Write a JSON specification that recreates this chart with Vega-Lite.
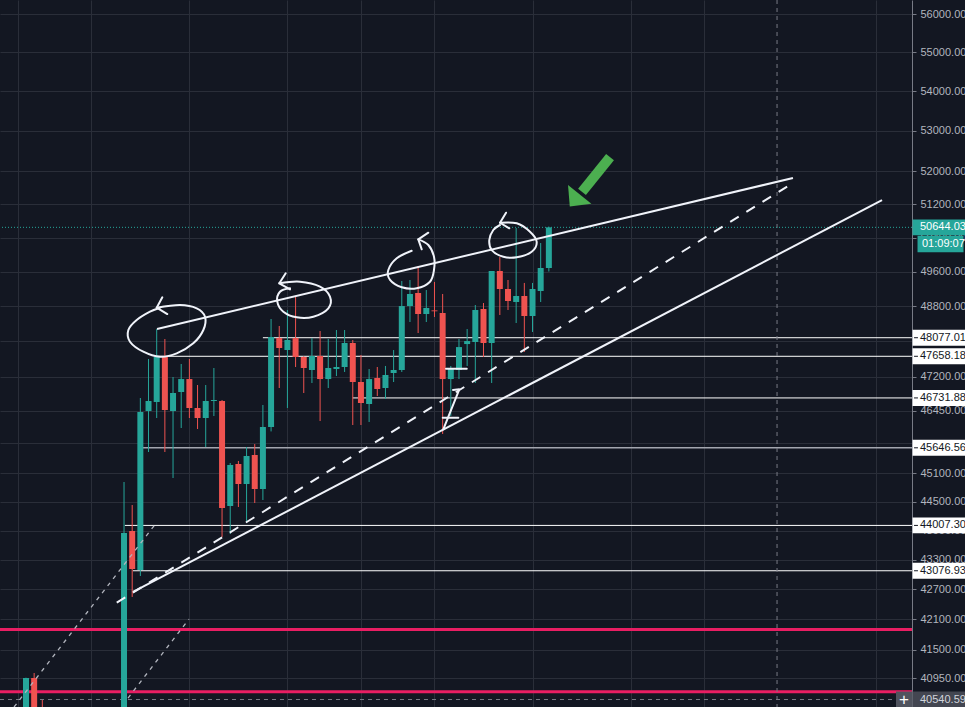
{
  "$schema": "https://vega.github.io/schema/vega-lite/v6.json",
  "width": 912,
  "height": 707,
  "autosize": "none",
  "padding": {"left": 0, "top": 0, "right": 53, "bottom": 0},
  "background": "#131722",
  "config": {
    "view": {"stroke": null},
    "font": "Liberation Sans",
    "axis": {"gridColor": "#2a2e39", "gridWidth": 1, "title": null},
    "axisY": {
      "labelColor": "#b2b5be", "labelFont": "Liberation Sans", "labelFontSize": 11,
      "tickColor": "#787b86", "tickSize": 4, "domainColor": "#787b86",
      "labelPadding": 4, "labelOverlap": false, "labelFlush": false, "labelBound": false
    }
  },
  "datasets": {
    "candles": [
      {"t": -12, "open": 40250, "high": 40960, "low": 40150, "close": 40954},
      {"t": -11, "open": 40954, "high": 41050, "low": 40100, "close": 40200},
      {"t": -10, "open": 40380, "high": 40531, "low": 40150, "close": 40250},
      {"t": 0, "open": 40300, "high": 44917, "low": 40200, "close": 43850},
      {"t": 1, "open": 43891, "high": 44432, "low": 42548, "close": 43113},
      {"t": 2, "open": 43093, "high": 46730, "low": 42971, "close": 46423},
      {"t": 3, "open": 46445, "high": 47597, "low": 45556, "close": 46664},
      {"t": 4, "open": 46642, "high": 48275, "low": 46292, "close": 47642},
      {"t": 5, "open": 47642, "high": 48048, "low": 45556, "close": 46467},
      {"t": 6, "open": 46445, "high": 47195, "low": 45001, "close": 46841},
      {"t": 7, "open": 46863, "high": 47485, "low": 46074, "close": 47150},
      {"t": 8, "open": 47150, "high": 47597, "low": 46292, "close": 46511},
      {"t": 9, "open": 46511, "high": 47017, "low": 46053, "close": 46292},
      {"t": 10, "open": 46292, "high": 47017, "low": 45663, "close": 46664},
      {"t": 11, "open": 46664, "high": 47396, "low": 46335, "close": 46686},
      {"t": 12, "open": 46664, "high": 46686, "low": 43768, "close": 44370},
      {"t": 13, "open": 44412, "high": 45321, "low": 43830, "close": 45278},
      {"t": 14, "open": 45299, "high": 45364, "low": 44391, "close": 44875},
      {"t": 15, "open": 44875, "high": 45663, "low": 44058, "close": 45470},
      {"t": 16, "open": 45492, "high": 45728, "low": 44474, "close": 44769},
      {"t": 17, "open": 44769, "high": 46577, "low": 44537, "close": 46096},
      {"t": 18, "open": 46096, "high": 48503, "low": 46000, "close": 48093},
      {"t": 19, "open": 48070, "high": 48343, "low": 46951, "close": 47844},
      {"t": 20, "open": 47799, "high": 48709, "low": 46511, "close": 48025},
      {"t": 21, "open": 48070, "high": 49032, "low": 47418, "close": 47642},
      {"t": 22, "open": 47642, "high": 47660, "low": 46841, "close": 47396},
      {"t": 23, "open": 47351, "high": 48070, "low": 47062, "close": 47665},
      {"t": 24, "open": 47665, "high": 48229, "low": 46226, "close": 47150},
      {"t": 25, "open": 47150, "high": 48048, "low": 46951, "close": 47396},
      {"t": 26, "open": 47373, "high": 48252, "low": 47217, "close": 47418},
      {"t": 27, "open": 47418, "high": 48252, "low": 47307, "close": 47957},
      {"t": 28, "open": 47957, "high": 48025, "low": 46139, "close": 47084},
      {"t": 29, "open": 47084, "high": 47687, "low": 46139, "close": 46620},
      {"t": 30, "open": 46598, "high": 47373, "low": 46205, "close": 47150},
      {"t": 31, "open": 47173, "high": 47418, "low": 46774, "close": 46929},
      {"t": 32, "open": 46951, "high": 47441, "low": 46708, "close": 47240},
      {"t": 33, "open": 47284, "high": 47799, "low": 47084, "close": 47351},
      {"t": 34, "open": 47351, "high": 49380, "low": 47307, "close": 48800},
      {"t": 35, "open": 48800, "high": 49403, "low": 48434, "close": 49078},
      {"t": 36, "open": 49101, "high": 49729, "low": 48184, "close": 48617},
      {"t": 37, "open": 48617, "high": 49170, "low": 48434, "close": 48755},
      {"t": 38, "open": 48700, "high": 49357, "low": 48549, "close": 48680},
      {"t": 39, "open": 48640, "high": 49078, "low": 45944, "close": 47150},
      {"t": 40, "open": 47150, "high": 47441, "low": 46335, "close": 47373},
      {"t": 41, "open": 47351, "high": 48048, "low": 47150, "close": 47866},
      {"t": 42, "open": 47934, "high": 48275, "low": 47441, "close": 48002},
      {"t": 43, "open": 47980, "high": 48824, "low": 47062, "close": 48709},
      {"t": 44, "open": 48732, "high": 48870, "low": 47642, "close": 47957},
      {"t": 45, "open": 47957, "high": 49613, "low": 47062, "close": 49613},
      {"t": 46, "open": 49613, "high": 49940, "low": 48594, "close": 49193},
      {"t": 47, "open": 49193, "high": 49403, "low": 48709, "close": 48916},
      {"t": 48, "open": 48893, "high": 50628, "low": 48411, "close": 49032},
      {"t": 49, "open": 49032, "high": 49334, "low": 47754, "close": 48571},
      {"t": 50, "open": 48571, "high": 49334, "low": 48207, "close": 49193},
      {"t": 51, "open": 49147, "high": 50271, "low": 48893, "close": 49683},
      {"t": 52, "open": 49683, "high": 50660, "low": 49600, "close": 50644.03}
    ],
    "levels": [
      {"price": 48077.01, "from": 17.0},
      {"price": 47658.18, "from": 3.8},
      {"price": 46731.88, "from": 28.0},
      {"price": 44007.30, "from": 0.1},
      {"price": 43076.93, "from": 1.1}
    ],
    "trends": [
      {"id": "upper", "style": "solid", "t": 4.04, "price": 48275},
      {"id": "upper", "style": "solid", "t": 81.88, "price": 51835},
      {"id": "lower", "style": "solid", "t": 1.10, "price": 42648},
      {"id": "lower", "style": "solid", "t": 92.78, "price": 51300},
      {"id": "mid", "style": "dashed", "t": -0.89, "price": 42434},
      {"id": "mid", "style": "dashed", "t": 81.88, "price": 51713},
      {"id": "a", "style": "thin", "t": -13.46, "price": 40398},
      {"id": "a", "style": "thin", "t": 4.04, "price": 44078},
      {"id": "b", "style": "thin", "t": 0.49, "price": 40569},
      {"id": "b", "style": "thin", "t": 7.96, "price": 42108}
    ],
    "circles": [
      {"id": "c1", "seq": 1, "t": 4.00, "price": 48762},
      {"id": "c1", "seq": 2, "t": 6.85, "price": 48824},
      {"id": "c1", "seq": 3, "t": 8.90, "price": 48748},
      {"id": "c1", "seq": 4, "t": 9.91, "price": 48556},
      {"id": "c1", "seq": 5, "t": 9.71, "price": 48252},
      {"id": "c1", "seq": 6, "t": 8.48, "price": 47950},
      {"id": "c1", "seq": 7, "t": 6.45, "price": 47725},
      {"id": "c1", "seq": 8, "t": 4.41, "price": 47649},
      {"id": "c1", "seq": 9, "t": 2.36, "price": 47761},
      {"id": "c1", "seq": 10, "t": 0.73, "price": 47987},
      {"id": "c1", "seq": 11, "t": 0.53, "price": 48252},
      {"id": "c1", "seq": 12, "t": 1.55, "price": 48480},
      {"id": "c1", "seq": 13, "t": 3.18, "price": 48670},
      {"id": "c1", "seq": 14, "t": 4.41, "price": 48762},
      {"id": "c2", "seq": 1, "t": 19.01, "price": 49326},
      {"id": "c2", "seq": 2, "t": 21.54, "price": 49363},
      {"id": "c2", "seq": 3, "t": 23.99, "price": 49247},
      {"id": "c2", "seq": 4, "t": 25.21, "price": 49015},
      {"id": "c2", "seq": 5, "t": 25.01, "price": 48748},
      {"id": "c2", "seq": 6, "t": 23.17, "price": 48556},
      {"id": "c2", "seq": 7, "t": 21.14, "price": 48542},
      {"id": "c2", "seq": 8, "t": 19.50, "price": 48670},
      {"id": "c2", "seq": 9, "t": 18.76, "price": 48900},
      {"id": "c2", "seq": 10, "t": 19.09, "price": 49131},
      {"id": "c2", "seq": 11, "t": 20.32, "price": 49209},
      {"id": "c3", "seq": 1, "t": 36.02, "price": 50359},
      {"id": "c3", "seq": 2, "t": 37.25, "price": 50224},
      {"id": "c3", "seq": 3, "t": 37.94, "price": 49948},
      {"id": "c3", "seq": 4, "t": 37.94, "price": 49636},
      {"id": "c3", "seq": 5, "t": 37.45, "price": 49363},
      {"id": "c3", "seq": 6, "t": 35.83, "price": 49210},
      {"id": "c3", "seq": 7, "t": 33.99, "price": 49233},
      {"id": "c3", "seq": 8, "t": 32.56, "price": 49403},
      {"id": "c3", "seq": 9, "t": 32.35, "price": 49636},
      {"id": "c3", "seq": 10, "t": 33.38, "price": 49910},
      {"id": "c3", "seq": 11, "t": 35.21, "price": 50088},
      {"id": "c4", "seq": 1, "t": 46.02, "price": 50754},
      {"id": "c4", "seq": 2, "t": 48.07, "price": 50740},
      {"id": "c4", "seq": 3, "t": 49.69, "price": 50540},
      {"id": "c4", "seq": 4, "t": 50.51, "price": 50302},
      {"id": "c4", "seq": 5, "t": 49.90, "price": 50065},
      {"id": "c4", "seq": 6, "t": 48.07, "price": 49933},
      {"id": "c4", "seq": 7, "t": 46.43, "price": 49947},
      {"id": "c4", "seq": 8, "t": 45.01, "price": 50105},
      {"id": "c4", "seq": 9, "t": 44.71, "price": 50342},
      {"id": "c4", "seq": 10, "t": 45.20, "price": 50580},
      {"id": "c4", "seq": 11, "t": 46.02, "price": 50700}
    ],
    "strokes": [
      {"id": "h1", "seq": 1, "t": 4.69, "price": 49001},
      {"id": "h1", "seq": 2, "t": 4.00, "price": 48762},
      {"id": "h1", "seq": 3, "t": 5.30, "price": 48617},
      {"id": "h2", "seq": 1, "t": 19.79, "price": 49559},
      {"id": "h2", "seq": 2, "t": 19.01, "price": 49326},
      {"id": "h2", "seq": 3, "t": 20.32, "price": 49186},
      {"id": "h3", "seq": 1, "t": 37.25, "price": 50516},
      {"id": "h3", "seq": 2, "t": 36.02, "price": 50359},
      {"id": "h3", "seq": 3, "t": 36.44, "price": 50122},
      {"id": "h4", "seq": 1, "t": 46.76, "price": 50994},
      {"id": "h4", "seq": 2, "t": 46.02, "price": 50754},
      {"id": "h4", "seq": 3, "t": 47.16, "price": 50621},
      {"id": "s1", "seq": 1, "t": 39.08, "price": 46046},
      {"id": "s1", "seq": 2, "t": 41.04, "price": 46922},
      {"id": "s1", "seq": 3, "t": 40.27, "price": 46907},
      {"id": "s2", "seq": 1, "t": 39.01, "price": 46298},
      {"id": "s2", "seq": 2, "t": 40.92, "price": 46298},
      {"id": "s3", "seq": 1, "t": 39.41, "price": 47380},
      {"id": "s3", "seq": 2, "t": 41.95, "price": 47380}
    ]
  },
  "layer": [
    {
      "data": {"values": [{"price": 41900}, {"price": 40690}]},
      "mark": {"type": "rule", "color": "#e91e63", "strokeWidth": 3},
      "encoding": {
        "y": {
          "field": "price", "type": "quantitative",
          "scale": {"type": "log", "domain": [40398, 56371], "nice": false, "zero": false, "padding": 0},
          "axis": {
            "orient": "right", "title": null, "grid": true,
            "labelExpr": "datum.value == 45750 ? '' : format(datum.value, '.2f')",
            "values": [56000, 55000, 54000, 53000, 52000, 51200, 50400, 49600, 48800, 48000, 47200, 46450, 45750, 45100, 44500, 43900, 43300, 42700, 42100, 41500, 40950, 40400]
          }
        }
      }
    },
    {
      "data": {"name": "levels"},
      "mark": {"type": "rule", "color": "#ffffff", "strokeWidth": 1},
      "encoding": {
        "x": {"field": "from", "type": "quantitative"},
        "x2": {"datum": 96.45},
        "y": {"field": "price", "type": "quantitative"}
      }
    },
    {
      "data": {"values": [{"price": 45646.56, "from": 2.3}]},
      "mark": {"type": "rule", "color": "#a3a6af", "strokeWidth": 1.5},
      "encoding": {
        "x": {"field": "from", "type": "quantitative"},
        "x2": {"datum": 96.45},
        "y": {"field": "price", "type": "quantitative"}
      }
    },
    {
      "data": {"values": [{}]},
      "mark": {"type": "rule", "color": "#787b86", "strokeWidth": 1, "strokeDash": [4, 4]},
      "encoding": {
        "x": {"datum": -15.18, "type": "quantitative"},
        "x2": {"datum": 94.49},
        "y": {"datum": 40540.59, "type": "quantitative"}
      }
    },
    {
      "data": {"values": [{}]},
      "mark": {"type": "rule", "color": "#787b86", "strokeWidth": 1, "strokeDash": [4, 4]},
      "encoding": {
        "x": {"datum": 79.93, "type": "quantitative"}
      }
    },
    {
      "data": {"name": "candles"},
      "mark": {"type": "rule", "strokeWidth": 1, "clip": true},
      "encoding": {
        "x": {
          "field": "t", "type": "quantitative",
          "scale": {"domain": [-15.18, 96.45], "nice": false, "zero": false, "padding": 0},
          "axis": {"values": [-13, -4, 8, 20, 29, 38, 50, 62, 71, 92], "labels": false, "ticks": false, "domain": false, "grid": true, "title": null}
        },
        "y": {"field": "low", "type": "quantitative"},
        "y2": {"field": "high"},
        "color": {"condition": {"test": "datum.close >= datum.open", "value": "#26a69a"}, "value": "#ef5350"}
      }
    },
    {
      "data": {"name": "candles"},
      "mark": {"type": "bar", "width": 6, "clip": true},
      "encoding": {
        "x": {"field": "t", "type": "quantitative"},
        "y": {"field": "open", "type": "quantitative"},
        "y2": {"field": "close"},
        "color": {"condition": {"test": "datum.close >= datum.open", "value": "#26a69a"}, "value": "#ef5350"}
      }
    },
    {
      "data": {"values": [{}]},
      "mark": {"type": "rule", "color": "#26a69a", "strokeWidth": 1, "strokeDash": [1, 2]},
      "encoding": {
        "y": {"datum": 50644.03, "type": "quantitative"}
      }
    },
    {
      "data": {"name": "trends"},
      "transform": [{"filter": "datum.style == 'solid'"}],
      "mark": {"type": "line", "color": "#f0f3fa", "strokeWidth": 2, "clip": true},
      "encoding": {
        "x": {"field": "t", "type": "quantitative"},
        "y": {"field": "price", "type": "quantitative"},
        "detail": {"field": "id"}
      }
    },
    {
      "data": {"name": "trends"},
      "transform": [{"filter": "datum.style == 'dashed'"}],
      "mark": {"type": "line", "color": "#f0f3fa", "strokeWidth": 2, "strokeDash": [10, 9], "clip": true},
      "encoding": {
        "x": {"field": "t", "type": "quantitative"},
        "y": {"field": "price", "type": "quantitative"},
        "detail": {"field": "id"}
      }
    },
    {
      "data": {"name": "trends"},
      "transform": [{"filter": "datum.style == 'thin'"}],
      "mark": {"type": "line", "color": "#b2b5be", "strokeWidth": 1.3, "strokeDash": [4, 5], "clip": true},
      "encoding": {
        "x": {"field": "t", "type": "quantitative"},
        "y": {"field": "price", "type": "quantitative"},
        "detail": {"field": "id"}
      }
    },
    {
      "data": {"name": "circles"},
      "mark": {"type": "line", "color": "#f0f3fa", "strokeWidth": 2, "interpolate": "cardinal", "strokeCap": "round"},
      "encoding": {
        "x": {"field": "t", "type": "quantitative"},
        "y": {"field": "price", "type": "quantitative"},
        "detail": {"field": "id"},
        "order": {"field": "seq"}
      }
    },
    {
      "data": {"name": "strokes"},
      "mark": {"type": "line", "color": "#f0f3fa", "strokeWidth": 2, "strokeCap": "round", "strokeJoin": "round"},
      "encoding": {
        "x": {"field": "t", "type": "quantitative"},
        "y": {"field": "price", "type": "quantitative"},
        "detail": {"field": "id"},
        "order": {"field": "seq"}
      }
    },
    {
      "data": {"values": [{"t": 59.49, "price": 52350}, {"t": 56.06, "price": 51495}]},
      "mark": {"type": "line", "color": "#4caf50", "strokeWidth": 10, "strokeCap": "butt"},
      "encoding": {
        "x": {"field": "t", "type": "quantitative"},
        "y": {"field": "price", "type": "quantitative"}
      }
    },
    {
      "data": {"values": [{"t": 55.14, "price": 51283}]},
      "mark": {"type": "point", "shape": "M-1,-0.55L1,-0.55L0,0.5Z", "size": 900, "filled": true, "color": "#4caf50", "opacity": 1, "angle": 39},
      "encoding": {
        "x": {"field": "t", "type": "quantitative"},
        "y": {"field": "price", "type": "quantitative"}
      }
    },
    {
      "data": {"values": [{"price": 48077.01}, {"price": 47658.18}, {"price": 46731.88}, {"price": 45646.56}, {"price": 44007.30}, {"price": 43076.93}]},
      "layer": [
        {
          "mark": {"type": "point", "shape": "M-1,-0.30L1,-0.30L1,0.30L-1,0.30Z", "size": 2809, "filled": true, "color": "#ffffff", "opacity": 1},
          "encoding": {
            "x": {"datum": 99.76, "type": "quantitative"},
            "y": {"field": "price", "type": "quantitative"}
          }
        },
        {
          "mark": {"type": "rule", "color": "#131722", "strokeWidth": 1},
          "encoding": {
            "x": {"datum": 96.70, "type": "quantitative"},
            "x2": {"datum": 97.18},
            "y": {"field": "price", "type": "quantitative"}
          }
        },
        {
          "mark": {"type": "text", "align": "left", "baseline": "middle", "fontSize": 11, "color": "#131722", "font": "Liberation Sans"},
          "encoding": {
            "x": {"datum": 97.43, "type": "quantitative"},
            "y": {"field": "price", "type": "quantitative"},
            "text": {"field": "price", "format": ".2f"}
          }
        }
      ]
    },
    {
      "data": {"values": [{}]},
      "layer": [
        {
          "mark": {"type": "point", "shape": "M-1,-0.30L1,-0.30L1,0.30L-1,0.30Z", "size": 2809, "filled": true, "color": "#26a69a", "opacity": 1},
          "encoding": {
            "x": {"datum": 99.76, "type": "quantitative"},
            "y": {"datum": 50644.03, "type": "quantitative"}
          }
        },
        {
          "mark": {"type": "text", "align": "left", "baseline": "middle", "fontSize": 11, "color": "#ffffff", "text": "50644.03"},
          "encoding": {
            "x": {"datum": 97.43, "type": "quantitative"},
            "y": {"datum": 50644.03, "type": "quantitative"}
          }
        },
        {
          "mark": {"type": "point", "shape": "M-1,-0.36L1,-0.36L1,0.36L-1,0.36Z", "size": 2116, "filled": true, "color": "#26a69a", "opacity": 1},
          "encoding": {
            "x": {"datum": 99.94, "type": "quantitative"},
            "y": {"datum": 50247, "type": "quantitative"}
          }
        },
        {
          "mark": {"type": "text", "align": "left", "baseline": "middle", "fontSize": 11, "color": "#ffffff", "text": "01:09:07"},
          "encoding": {
            "x": {"datum": 97.67, "type": "quantitative"},
            "y": {"datum": 50247, "type": "quantitative"}
          }
        },
        {
          "mark": {"type": "point", "shape": "M-1,-0.30L1,-0.30L1,0.30L-1,0.30Z", "size": 2809, "filled": true, "color": "#434651", "opacity": 1},
          "encoding": {
            "x": {"datum": 99.76, "type": "quantitative"},
            "y": {"datum": 40540.59, "type": "quantitative"}
          }
        },
        {
          "mark": {"type": "text", "align": "left", "baseline": "middle", "fontSize": 11, "color": "#d1d4dc", "text": "40540.59"},
          "encoding": {
            "x": {"datum": 97.43, "type": "quantitative"},
            "y": {"datum": 40540.59, "type": "quantitative"}
          }
        },
        {
          "mark": {"type": "point", "shape": "square", "size": 256, "filled": true, "color": "#50535e", "opacity": 1},
          "encoding": {
            "x": {"datum": 95.47, "type": "quantitative"},
            "y": {"datum": 40540.59, "type": "quantitative"}
          }
        },
        {
          "mark": {"type": "text", "align": "center", "baseline": "middle", "fontSize": 17, "color": "#ffffff", "text": "+"},
          "encoding": {
            "x": {"datum": 95.47, "type": "quantitative"},
            "y": {"datum": 40540.59, "type": "quantitative"}
          }
        }
      ]
    }
  ]
}
